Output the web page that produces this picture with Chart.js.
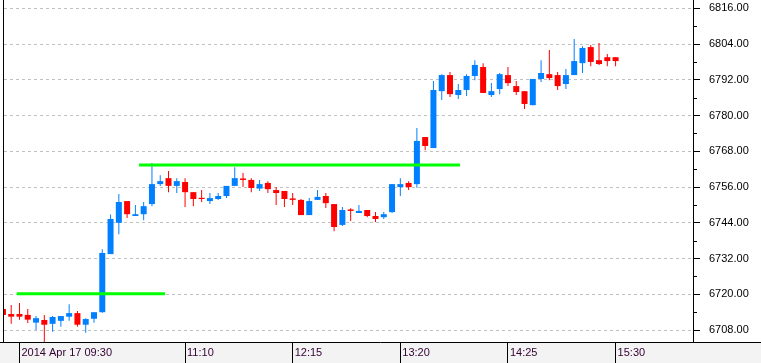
<!DOCTYPE html>
<html>
<head>
<meta charset="utf-8">
<script src="https://cdn.jsdelivr.net/npm/chart.js@4.4.1/dist/chart.umd.min.js"></script>
<style>
  html, body { margin: 0; padding: 0; background: #fff; }
  #wrap { width: 761px; height: 363px; position: relative; }
</style>
</head>
<body>
<div id="wrap"><canvas id="chart"></canvas></div>
<script>
// ===== 5-minute bars, 17 Apr 2014 =====
const times = [
    "09:20", "09:25", "09:30", "09:35", "09:40", "09:45", "09:50", "09:55",
    "10:00", "10:05", "10:10", "10:15", "10:20", "10:25", "10:30", "10:35", "10:40", "10:45", "10:50", "10:55",
    "11:00", "11:05", "11:10", "11:15", "11:20", "11:25", "11:30", "11:35", "11:40", "11:45", "11:50", "11:55",
    "12:00", "12:05", "12:10", "12:15", "12:20", "12:25", "12:30", "12:35", "12:40", "12:45", "12:50", "12:55",
    "13:00", "13:05", "13:10", "13:15", "13:20", "13:25", "13:30", "13:35", "13:40", "13:45", "13:50", "13:55",
    "14:00", "14:05", "14:10", "14:15", "14:20", "14:25", "14:30", "14:35", "14:40", "14:45", "14:50", "14:55",
    "15:00", "15:05", "15:10", "15:15", "15:20", "15:25", "15:30"
];

const open = [
    6715.1, 6713.4, 6713.4, 6713.1, 6710.5, 6711.4, 6710.1, 6711.1,
    6712.5, 6713.7, 6709.8, 6711.8, 6714.0, 6733.5, 6744.0, 6751.3, 6746.3, 6746.9, 6750.3, 6757.0,
    6759.0, 6756.4, 6757.7, 6754.3, 6752.4, 6751.3, 6752.0, 6753.0, 6756.4, 6758.9, 6758.4, 6755.5,
    6757.4, 6755.0, 6754.7, 6752.2, 6751.7, 6746.6, 6751.7, 6753.0, 6750.3, 6743.3, 6748.5, 6747.3,
    6748.3, 6746.3, 6745.9, 6747.6, 6756.0, 6757.4, 6757.0, 6772.8, 6769.1, 6788.2, 6793.6, 6786.9,
    6788.6, 6793.3, 6796.3, 6786.9, 6788.9, 6793.6, 6789.9, 6788.2, 6783.5, 6792.3, 6793.9, 6793.6,
    6790.6, 6793.6, 6797.6, 6803.0, 6798.6, 6799.6, 6799.6
];
const high = [
    6715.6, 6716.4, 6717.1, 6715.1, 6712.7, 6713.1, 6712.7, 6712.7,
    6716.7, 6714.4, 6712.0, 6714.0, 6735.1, 6746.8, 6753.7, 6751.3, 6750.0, 6751.0, 6764.1, 6760.0,
    6761.4, 6759.0, 6759.0, 6754.3, 6755.0, 6754.0, 6754.0, 6756.4, 6762.7, 6760.7, 6759.0, 6758.4,
    6758.0, 6756.0, 6754.7, 6754.0, 6752.0, 6752.3, 6755.0, 6754.0, 6750.3, 6749.3, 6748.9, 6750.0,
    6748.3, 6747.6, 6747.6, 6757.0, 6759.0, 6758.0, 6775.8, 6772.8, 6791.6, 6793.9, 6794.6, 6790.6,
    6793.9, 6798.6, 6797.6, 6790.9, 6794.3, 6796.3, 6791.6, 6788.2, 6792.3, 6798.6, 6802.0, 6794.6,
    6795.6, 6805.7, 6803.3, 6803.7, 6804.4, 6800.7, 6799.6
];
const low = [
    6712.6, 6710.1, 6711.5, 6710.4, 6708.0, 6704.0, 6707.4, 6709.1,
    6711.1, 6709.1, 6707.1, 6710.5, 6713.8, 6733.5, 6740.2, 6745.6, 6746.3, 6744.9, 6749.6, 6756.4,
    6754.3, 6754.0, 6749.3, 6749.6, 6751.0, 6750.3, 6751.7, 6752.3, 6756.4, 6756.0, 6754.3, 6754.7,
    6754.0, 6750.0, 6749.3, 6750.0, 6746.6, 6746.6, 6751.7, 6749.0, 6741.2, 6742.9, 6744.6, 6747.3,
    6745.9, 6744.3, 6745.3, 6747.3, 6753.0, 6755.0, 6755.8, 6768.4, 6769.1, 6785.2, 6786.2, 6785.6,
    6786.6, 6791.9, 6787.6, 6786.2, 6787.2, 6789.9, 6786.9, 6782.2, 6783.5, 6791.3, 6791.9, 6788.6,
    6788.9, 6793.6, 6794.3, 6796.6, 6797.0, 6796.6, 6796.6
];
const close = [
    6713.1, 6712.5, 6712.5, 6711.5, 6712.0, 6709.8, 6712.4, 6712.7,
    6713.7, 6709.8, 6711.7, 6714.0, 6733.9, 6745.3, 6751.0, 6746.9, 6746.9, 6749.6, 6757.0, 6758.0,
    6756.4, 6758.0, 6754.3, 6752.0, 6752.0, 6752.3, 6753.0, 6756.4, 6759.0, 6758.4, 6755.7, 6757.0,
    6755.3, 6754.0, 6752.0, 6751.7, 6746.6, 6751.3, 6752.7, 6750.6, 6742.6, 6748.3, 6748.0, 6748.0,
    6746.3, 6745.3, 6746.9, 6757.0, 6757.0, 6756.0, 6771.5, 6769.8, 6788.6, 6793.6, 6787.2, 6788.6,
    6793.3, 6797.0, 6787.6, 6788.2, 6793.9, 6790.9, 6787.9, 6783.9, 6792.3, 6794.3, 6792.6, 6789.9,
    6793.6, 6798.3, 6802.7, 6798.0, 6797.3, 6798.3, 6798.3
];

// support / resistance segments (level, first bar, last bar)
const levelValues = [6720.2, 6763.4];
const levelFrom = [1.67, 16.44];
const levelTo = [19.58, 55.2];

// axis labels
const tickTimes = ["09:30", "11:10", "12:15", "13:20", "14:25", "15:30"];
const tickLabels = ["2014 Apr 17 09:30", "11:10", "12:15", "13:20", "14:25", "15:30"];
const priceTicks = [6708, 6720, 6732, 6744, 6756, 6768, 6780, 6792, 6804, 6816];

const UP = "#0080ff";
const DOWN = "#ff0000";
const FONT = "'Liberation Sans', Arial, sans-serif";

const candleColor = (c) => close[c.dataIndex] >= open[c.dataIndex] ? UP : DOWN;

// background strip under the time axis, frame lines and minor price ticks
const framePlugin = {
    id: "frame",
    beforeDraw(chart) {
        const { ctx, width, height, chartArea } = chart;
        ctx.save();
        ctx.fillStyle = "#ffffff";
        ctx.fillRect(0, 0, width, height);
        ctx.fillStyle = "#f3f3f3";
        ctx.fillRect(0, chartArea.bottom, width, height - chartArea.bottom);
        ctx.restore();
    },
    afterDraw(chart) {
        const { ctx, width, chartArea, scales } = chart;
        const y = scales.y;
        const half = (priceTicks[1] - priceTicks[0]) / 2;
        ctx.save();
        ctx.strokeStyle = "#000";
        ctx.lineWidth = 1;
        ctx.beginPath();
        ctx.moveTo(chartArea.left - 0.5, 0);
        ctx.lineTo(chartArea.left - 0.5, chartArea.bottom);
        ctx.moveTo(0, chartArea.bottom + 0.5);
        ctx.lineTo(width, chartArea.bottom + 0.5);
        priceTicks.forEach(v => {
            const py = Math.round(y.getPixelForValue(v + half)) + 0.5;
            if (py > chartArea.top && py < chartArea.bottom) {
                ctx.moveTo(chartArea.right, py);
                ctx.lineTo(chartArea.right + 4, py);
            }
        });
        ctx.stroke();
        ctx.restore();
    }
};

const levelSets = levelValues.map((lv, k) => ({
    type: "line",
    data: [{ x: levelFrom[k], y: lv }, { x: levelTo[k], y: lv }],
    borderColor: "#00ff00",
    borderWidth: 3,
    pointRadius: 0,
    order: 0
}));

new Chart(document.getElementById("chart"), {
    type: "bar",
    data: {
        datasets: [
            {
                // candle bodies
                data: times.map((t, i) => ({ x: i, y: [open[i], close[i]] })),
                backgroundColor: candleColor,
                barThickness: 6,
                minBarLength: 1,
                inflateAmount: 0,
                borderWidth: 0,
                grouped: false,
                order: 1
            },
            {
                // wicks
                data: times.map((t, i) => ({ x: i, y: [low[i], high[i]] })),
                backgroundColor: candleColor,
                barThickness: 1,
                inflateAmount: 0,
                borderWidth: 0,
                grouped: false,
                order: 2
            },
            ...levelSets
        ]
    },
    options: {
        responsive: true,
        maintainAspectRatio: false,
        animation: false,
        layout: { padding: { left: 4, top: 0, right: 0, bottom: 0 } },
        plugins: {
            legend: { display: false },
            tooltip: { enabled: false }
        },
        scales: {
            x: {
                type: "linear",
                min: 0.13,
                max: 83.35,
                offset: false,
                grid: {
                    offset: false,
                    drawOnChartArea: false,
                    drawTicks: true,
                    tickLength: 21,
                    tickColor: "#000",
                    tickWidth: 1
                },
                border: { display: false },
                afterBuildTicks: (s) => {
                    s.ticks = tickTimes.map(t => ({ value: times.indexOf(t) }));
                },
                ticks: {
                    autoSkip: false,
                    maxRotation: 0,
                    align: "start",
                    labelOffset: 2,
                    padding: -17,
                    color: "#330033",
                    font: { family: FONT, size: 11 },
                    callback: (v, i) => tickLabels[i]
                },
                afterFit: (s) => {
                    s.height = 21;
                    s.paddingLeft = 0;
                    s.paddingRight = 0;
                }
            },
            y: {
                position: "right",
                min: 6704.0,
                max: 6818.8,
                beginAtZero: false,
                afterBuildTicks: (s) => {
                    s.ticks = priceTicks.map(v => ({ value: v }));
                },
                grid: {
                    color: "#c0c0c0",
                    tickLength: 7,
                    tickColor: "#000"
                },
                border: { display: true, color: "#000", width: 1, dash: [3, 3] },
                ticks: {
                    autoSkip: false,
                    padding: 9,
                    color: "#000",
                    font: { family: FONT, size: 11 },
                    callback: (v) => Number(v).toFixed(2)
                },
                afterFit: (s) => {
                    s.width = 68;
                    s.paddingTop = 0;
                    s.paddingBottom = 0;
                }
            }
        }
    },
    plugins: [framePlugin]
});
</script>
</body>
</html>
